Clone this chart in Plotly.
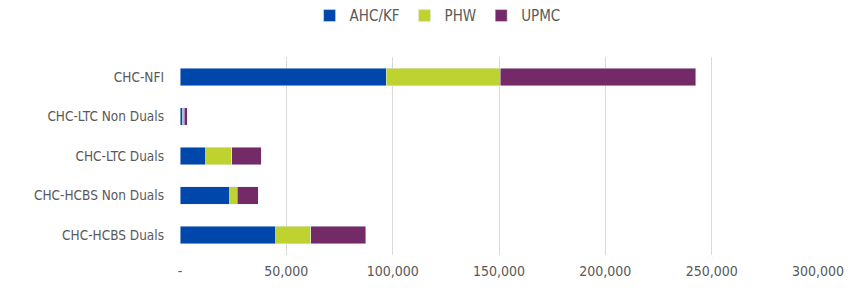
import plotly.graph_objects as go

categories = ["CHC-HCBS Duals", "CHC-HCBS Non Duals", "CHC-LTC Duals", "CHC-LTC Non Duals", "CHC-NFI"]
ahc_kf = [45000, 23500, 12100, 1200, 97000]
phw = [16500, 3500, 12200, 900, 53500]
upmc = [25800, 9800, 13800, 1300, 92000]

tick_vals = [0, 50000, 100000, 150000, 200000, 250000, 300000]
tick_text = ["-", "50,000", "100,000", "150,000", "200,000", "250,000", "300,000"]

font_family = "DejaVu Sans Condensed, Liberation Sans Narrow, Open Sans, sans-serif"
txt_color = "#595959"

fig = go.Figure()
fig.add_trace(go.Bar(y=categories, x=ahc_kf, name="AHC/KF", orientation="h", marker_color="#0047AB"))
fig.add_trace(go.Bar(y=categories, x=phw, name="PHW", orientation="h", marker_color="#BED230"))
fig.add_trace(go.Bar(y=categories, x=upmc, name="UPMC", orientation="h", marker_color="#742A66"))

W, H = 858, 288
L, R, T, B = 180, 40, 57, 33

fig.update_layout(
    width=W, height=H,
    barmode="stack",
    bargap=0.56,
    margin=dict(l=L, r=R, t=T, b=B, autoexpand=False),
    paper_bgcolor="white",
    plot_bgcolor="white",
    font=dict(family=font_family, size=14, color=txt_color),
    legend=dict(
        orientation="h",
        traceorder="normal",
        xref="container", yref="container",
        x=0.51, y=0.945, xanchor="center", yanchor="middle",
        font=dict(size=15, color=txt_color),
        itemwidth=30,
        tracegroupgap=0,
    ),
    xaxis=dict(
        range=[0, 300000],
        tickvals=tick_vals,
        ticktext=tick_text,
        tickfont=dict(size=14),
        showgrid=True,
        gridcolor="#d9d9d9",
        gridwidth=1,
        zeroline=False,
        showline=False,
        ticks="",
        ticklabelstandoff=6,
        automargin=False,
    ),
    yaxis=dict(
        categoryorder="array",
        categoryarray=categories,
        tickfont=dict(size=13.5),
        showgrid=False,
        zeroline=False,
        showline=False,
        ticks="",
        ticklabelstandoff=15,
        automargin=False,
    ),
)

fig.write_html(
    "out.html",
    config={"displayModeBar": False},
    post_script="document.body.style.margin='0';",
)
